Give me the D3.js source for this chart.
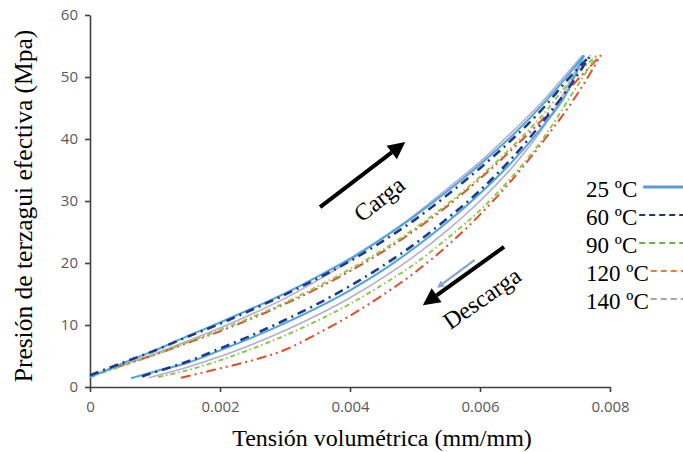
<!DOCTYPE html>
<html><head><meta charset="utf-8">
<script src="https://cdn.jsdelivr.net/npm/d3@7"></script>
<style>body{margin:0;background:#fff}svg{display:block}</style>
</head><body>
<script>
// ---- data ----
const temps = ["25 ºC", "60 ºC", "90 ºC", "120 ºC", "140 ºC"];
const xTicks = [0, 0.002, 0.004, 0.006, 0.008];
const yTicks = [0, 10, 20, 30, 40, 50, 60];

const load25 = [[0,1.6],[0.0005,3.8],[0.001,5.9],[0.0015,8.2],[0.002,10.4],[0.0025,12.7],[0.003,15.1],[0.0035,17.8],[0.004,20.7],[0.0045,24.0],[0.005,27.6],[0.0055,31.6],[0.006,35.9],[0.0065,40.6],[0.007,46.0],[0.0073,49.6],[0.0076,53.5]];
const unload25 = [[0.0076,53.5],[0.0073,46.8],[0.007,42.5],[0.0065,36.4],[0.006,31.2],[0.0055,26.6],[0.005,22.5],[0.0045,18.8],[0.004,15.6],[0.0035,12.8],[0.003,10.3],[0.0025,8.0],[0.002,5.9],[0.0015,3.9],[0.001,2.5],[0.00063,1.4]];
const load60 = [[0,1.9],[0.0005,3.9],[0.001,5.9],[0.0015,8.1],[0.002,10.2],[0.0025,12.5],[0.003,14.9],[0.0035,17.5],[0.004,20.3],[0.0045,23.5],[0.005,27.0],[0.0055,31.0],[0.006,35.3],[0.0065,40.0],[0.007,45.3],[0.0073,49.0],[0.0077,53.5]];
const unload60 = [[0.0077,53.5],[0.0073,47.3],[0.007,43.2],[0.0065,37.0],[0.006,31.7],[0.0055,27.2],[0.005,23.1],[0.0045,19.5],[0.004,16.3],[0.0035,13.4],[0.003,10.8],[0.0025,8.4],[0.002,6.2],[0.0015,4.1],[0.001,2.4],[0.0008,1.7]];
const load90 = [[0,1.6],[0.0005,3.4],[0.001,5.2],[0.0015,7.2],[0.002,9.2],[0.0025,11.3],[0.003,13.6],[0.0035,16.2],[0.004,19.0],[0.0045,22.1],[0.005,25.6],[0.0055,29.5],[0.006,33.9],[0.0065,38.8],[0.007,44.3],[0.0074,49.5],[0.0078,53.5]];
const unload90 = [[0.0078,53.5],[0.0074,47.0],[0.007,40.5],[0.0065,34.0],[0.006,28.5],[0.0055,24.0],[0.005,19.9],[0.0045,16.5],[0.004,13.4],[0.0035,10.7],[0.003,8.3],[0.0025,6.2],[0.002,4.3],[0.0015,2.7],[0.00105,1.6]];
const load120 = [[0,1.8],[0.0005,3.5],[0.001,5.2],[0.0015,7.1],[0.002,9.0],[0.0025,11.1],[0.003,13.4],[0.0035,15.9],[0.004,18.7],[0.0045,21.8],[0.005,25.3],[0.0055,29.2],[0.006,33.6],[0.0065,38.4],[0.007,43.6],[0.0074,48.4],[0.00786,53.5]];
const unload120 = [[0.00786,53.5],[0.0075,47.3],[0.007,40.0],[0.0065,33.5],[0.006,27.8],[0.0055,22.8],[0.005,18.5],[0.0045,14.8],[0.004,11.5],[0.0035,8.6],[0.003,6.0],[0.0025,4.3],[0.002,3.0],[0.0014,1.5]];
const load140 = [[0,1.7],[0.0005,3.5],[0.001,5.4],[0.0015,7.4],[0.002,9.5],[0.0025,11.8],[0.003,14.3],[0.0035,17.2],[0.004,20.4],[0.0045,24.0],[0.005,27.8],[0.0055,32.0],[0.006,36.3],[0.0065,41.2],[0.007,46.5],[0.0072,48.9],[0.00758,53.5]];
const unload140 = [[0.00758,53.5],[0.0073,47.6],[0.007,42.3],[0.0065,35.5],[0.006,30.0],[0.0055,25.3],[0.005,21.2],[0.0045,17.6],[0.004,14.4],[0.0035,11.6],[0.003,9.1],[0.0025,6.9],[0.002,4.9],[0.0015,3.2],[0.0009,1.5]];

// annotations (data coords)
const cargaArrow = [[0.00354,29.0],[0.00485,39.5]];
const descargaArrow = [[0.00637,22.6],[0.00512,13.2]];
const smallArrow = [[0.00592,20.5],[0.00534,16.0]];

// ---- styles ----
const curveStyle = [
  {c:"#4ea6dc", w:2, d:null},
  {c:"#1d3a8f", w:2.6, d:"9,5,2,5"},
  {c:"#8cc84b", w:2, d:"5,3,1.5,3"},
  {c:"#e84a27", w:2, d:"10,4,2,4,2,4"},
  {c:"#b3acd9", w:1.6, d:null}
];
const legendStyle = [
  {c:"#5b9bd5", w:3, d:null},
  {c:"#1f3864", w:2, d:"6,4"},
  {c:"#70ad47", w:2, d:"6,4"},
  {c:"#ed7d31", w:2, d:"6,4"},
  {c:"#a5a5a5", w:2, d:"6,4"}
];
const loads = [load25, load60, load90, load120, load140];
const unloads = [unload25, unload60, unload90, unload120, unload140];

const W = 683, H = 452;
const svg = d3.select("body").append("svg").attr("width", W).attr("height", H);
const x = d3.scaleLinear().domain([0, 0.008]).range([90, 610]);
const y = d3.scaleLinear().domain([0, 60]).range([387, 15]);

const serif = "'Liberation Serif','Times New Roman',serif";
const sans = "'Open Sans','Liberation Sans',sans-serif";

// axes
const yAxis = svg.append("g").attr("transform", `translate(${x(0)},0)`)
  .call(d3.axisLeft(y).tickValues(yTicks).tickSize(5).tickSizeOuter(0).tickPadding(7).tickFormat(d3.format("d")));
const xAxis = svg.append("g").attr("transform", `translate(0,${y(0)})`)
  .call(d3.axisBottom(x).tickValues(xTicks).tickSize(5).tickSizeOuter(0).tickPadding(9)
    .tickFormat(d => d === 0 ? "0" : d3.format(".3f")(d)));
[yAxis, xAxis].forEach(g => {
  g.selectAll("path,line").attr("stroke", "#404040").attr("stroke-width", 1.6);
  g.selectAll("text").attr("fill", "#595959").style("font-family", sans).style("font-size", "15px");
});

// curves (draw order)
const line = d3.line().x(d => x(d[0])).y(d => y(d[1])).curve(d3.curveMonotoneX);
const order = [4, 3, 2, 0, 1];
order.forEach(i => {
  const s = curveStyle[i];
  [loads[i], unloads[i].slice().sort((a, b) => a[0] - b[0])].forEach(arr => {
    svg.append("path").attr("d", line(arr)).attr("fill", "none")
      .attr("stroke", s.c).attr("stroke-width", s.w)
      .attr("stroke-dasharray", s.d).attr("stroke-linecap", "butt");
  });
});

// arrows
function arrow(pts, color, w, head) {
  const [p0, p1] = pts.map(p => [x(p[0]), y(p[1])]);
  const ang = Math.atan2(p1[1] - p0[1], p1[0] - p0[0]);
  const bx = p1[0] - head * Math.cos(ang), by = p1[1] - head * Math.sin(ang);
  svg.append("line").attr("x1", p0[0]).attr("y1", p0[1]).attr("x2", bx).attr("y2", by)
    .attr("stroke", color).attr("stroke-width", w);
  const hw = head * 0.5;
  const pts2 = [p1,
    [bx + hw * Math.sin(ang), by - hw * Math.cos(ang)],
    [bx - hw * Math.sin(ang), by + hw * Math.cos(ang)]];
  svg.append("polygon").attr("points", pts2.map(p => p.join(",")).join(" ")).attr("fill", color);
}
arrow(cargaArrow, "#000", 4, 17);
arrow(descargaArrow, "#000", 4, 17);
arrow(smallArrow, "#7ea3d4", 2, 7);

svg.append("text").attr("transform", `translate(${x(0.00445)},${y(30.3)}) rotate(-38)`)
  .attr("text-anchor", "middle").attr("dominant-baseline", "central")
  .style("font-family", serif).style("font-size", "24px").text("Carga");
svg.append("text").attr("transform", `translate(${x(0.00603)},${y(14.3)}) rotate(-35)`)
  .attr("text-anchor", "middle").attr("dominant-baseline", "central")
  .style("font-family", serif).style("font-size", "24px").text("Descarga");

// axis titles
svg.append("text").attr("x", 382).attr("y", 446).attr("text-anchor", "middle")
  .style("font-family", serif).style("font-size", "24px").text("Tensión volumétrica (mm/mm)");
svg.append("text").attr("transform", "translate(32,206) rotate(-90)").attr("text-anchor", "middle")
  .style("font-family", serif).style("font-size", "25.5px").text("Presión de terzagui efectiva (Mpa)");

// legend
const lg = svg.append("g");
temps.forEach((t, i) => {
  const by = 197 + i * 28;
  const txt = lg.append("text").attr("x", 586).attr("y", by)
    .style("font-family", serif).style("font-size", "23px").text(t);
  const tw = txt.node().getComputedTextLength();
  const s = legendStyle[i];
  lg.append("line").attr("x1", 586 + tw + (i === 0 ? 6 : 2)).attr("x2", 683)
    .attr("y1", by - 10).attr("y2", by - 10)
    .attr("stroke", s.c).attr("stroke-width", s.w).attr("stroke-dasharray", s.d);
});
</script>
</body></html>
